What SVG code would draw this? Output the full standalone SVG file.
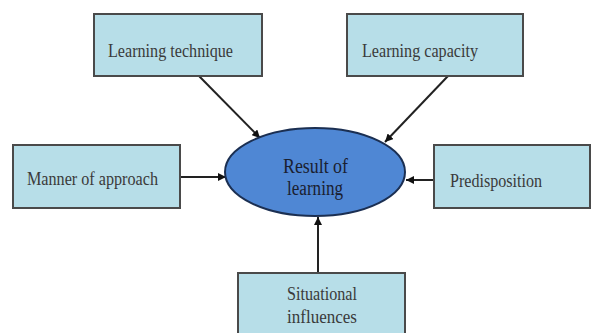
<svg xmlns="http://www.w3.org/2000/svg" width="592" height="333" viewBox="0 0 592 333">
  <defs>
    <marker id="arrow" viewBox="0 0 10 10" refX="10" refY="5" markerWidth="8" markerHeight="8" orient="auto" markerUnits="userSpaceOnUse">
      <path d="M0,0 L10,5 L0,10 z" fill="#111"/>
    </marker>
    <style>
      .box { fill: #b7dee8; stroke: #4a4a4a; stroke-width: 2; }
      .label { fill: #3a3a3a; text-anchor: middle; }
      .center { fill: #1a2030; text-anchor: middle; }
      .conn { stroke: #222; stroke-width: 2; fill: none; marker-end: url(#arrow); }
    </style>
  </defs>
  <rect width="592" height="333" fill="#fff"/>

  <g id="connectors">
    <line class="conn" x1="199" y1="76" x2="260" y2="138"/>
    <line class="conn" x1="448" y1="76" x2="385" y2="142"/>
    <line class="conn" x1="180" y1="177" x2="226" y2="177"/>
    <line class="conn" x1="434" y1="180" x2="406" y2="180"/>
    <line class="conn" x1="318" y1="273" x2="318" y2="217"/>
  </g>

  <g id="result">
    <ellipse cx="315" cy="172" rx="90" ry="44" fill="#4f87d4" stroke="#1b2f52" stroke-width="2"/>
    <text class="center" style="font-family: 'Liberation Serif', serif; font-size: 20px" x="315.5" y="173" textLength="65" lengthAdjust="spacingAndGlyphs">Result of</text>
    <text class="center" style="font-family: 'Liberation Serif', serif; font-size: 20px" x="315" y="195" textLength="56" lengthAdjust="spacingAndGlyphs">learning</text>
  </g>

  <g id="technique">
    <rect class="box" x="94" y="14" width="168" height="62"/>
    <text class="label" style="font-family: 'Liberation Serif', serif; font-size: 18px" x="170.5" y="57" textLength="125" lengthAdjust="spacingAndGlyphs">Learning technique</text>
  </g>

  <g id="capacity">
    <rect class="box" x="347" y="14" width="176" height="62"/>
    <text class="label" style="font-family: 'Liberation Serif', serif; font-size: 18px" x="420" y="57" textLength="116" lengthAdjust="spacingAndGlyphs">Learning capacity</text>
  </g>

  <g id="approach">
    <rect class="box" x="13" y="145" width="167" height="63"/>
    <text class="label" style="font-family: 'Liberation Serif', serif; font-size: 18px" x="92.5" y="185" textLength="131" lengthAdjust="spacingAndGlyphs">Manner of approach</text>
  </g>

  <g id="predisposition">
    <rect class="box" x="434" y="145" width="156" height="63"/>
    <text class="label" style="font-family: 'Liberation Serif', serif; font-size: 18px" x="496" y="187" textLength="92" lengthAdjust="spacingAndGlyphs">Predisposition</text>
  </g>

  <g id="situational">
    <rect class="box" x="238" y="273" width="167" height="70"/>
    <text class="label" style="font-family: 'Liberation Serif', serif; font-size: 18px" x="322" y="300" textLength="70" lengthAdjust="spacingAndGlyphs">Situational</text>
    <text class="label" style="font-family: 'Liberation Serif', serif; font-size: 18px" x="322" y="323" textLength="70" lengthAdjust="spacingAndGlyphs">influences</text>
  </g>
</svg>
